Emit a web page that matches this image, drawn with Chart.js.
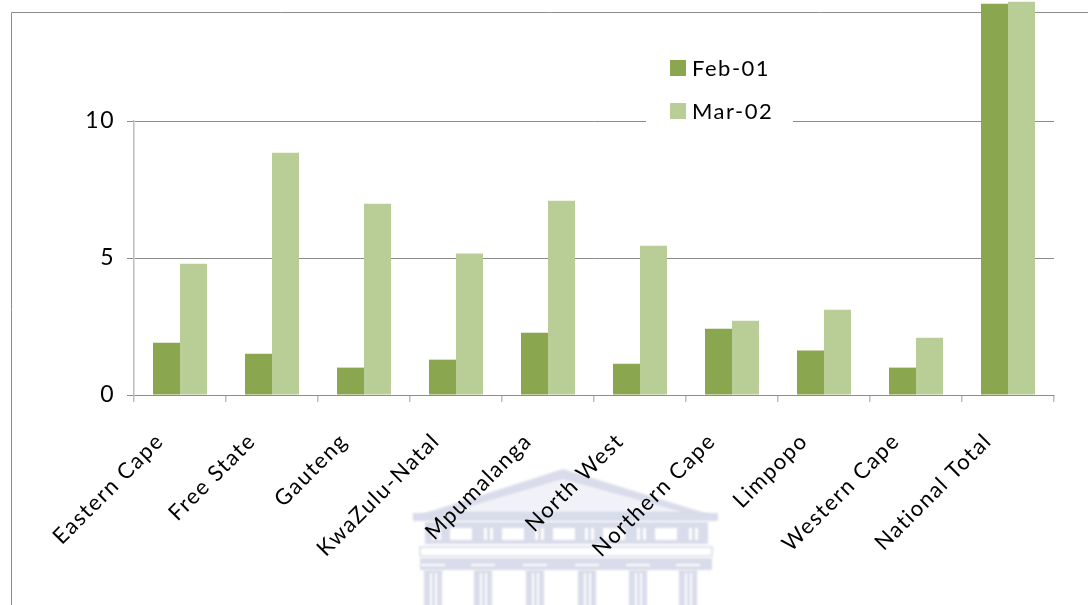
<!DOCTYPE html>
<html>
<head>
<meta charset="utf-8">
<title>Provinces Feb-01 / Mar-02</title>
<script src="https://cdn.jsdelivr.net/npm/chart.js@4.4.0/dist/chart.umd.min.js"></script>
<style>
  html, body { margin: 0; padding: 0; background: #fff; }
  #wrap { width: 1088px; height: 605px; }
</style>
</head>
<body>
<div id="wrap"><canvas id="provChart" width="1088" height="605"></canvas></div>
<script>
// values per province
const provinces = ["Eastern Cape", "Free State", "Gauteng", "KwaZulu-Natal", "Mpumalanga",
                   "North West", "Northern Cape", "Limpopo", "Western Cape", "National Total"];
const feb01 = [1.91, 1.51, 1.00, 1.29, 2.27, 1.14, 2.42, 1.62, 1.00, 14.28];
const mar02 = [4.79, 8.84, 6.98, 5.16, 7.09, 5.45, 2.71, 3.11, 2.09, 14.35];
const seriesNames = ["Feb-01", "Mar-02"];
const seriesColors = ["#8aa64e", "#b9ce96"];
const yMax = 10;
const yStep = 5;

const FONT = "Lato";
const SPACING = "1.5px";

// canvas letter spacing gets reset on resize, so set it before each layout/draw
const spacingPlugin = {
    id: "spacing",
    beforeLayout(chart) { chart.ctx.letterSpacing = SPACING; },
    beforeDraw(chart) { chart.ctx.letterSpacing = SPACING; }
};

// faint crest in the background
function drawCrest(ctx) {
    const dark = "#d9dcea";
    const light = "#f1f2f8";
    ctx.save();
    ctx.filter = "blur(1px)";
    ctx.fillStyle = dark;
    ctx.beginPath();
    ctx.moveTo(413, 517); ctx.lineTo(563, 469); ctx.lineTo(718, 517); ctx.closePath();
    ctx.fill();
    ctx.fillStyle = light;
    ctx.beginPath();
    ctx.moveTo(450, 512); ctx.lineTo(563, 479); ctx.lineTo(682, 512); ctx.closePath();
    ctx.fill();
    ctx.fillStyle = dark;
    ctx.fillRect(413, 513, 305, 8);
    ctx.fillRect(425, 522, 283, 22);
    ctx.fillStyle = "#fff";
    [450, 502, 553, 603, 655].forEach(x => ctx.fillRect(x, 528, 22, 12));
    [432, 484, 535, 585, 637, 689].forEach(x => {
        ctx.fillRect(x, 528, 3, 12);
        ctx.fillRect(x + 6, 528, 3, 12);
    });
    ctx.strokeStyle = dark;
    ctx.lineWidth = 1.5;
    ctx.strokeRect(420, 547, 292, 9);
    ctx.fillStyle = dark;
    ctx.fillRect(420, 558, 292, 12);
    ctx.fillStyle = "#fff";
    [433, 483, 535, 587, 638, 688].forEach(x => ctx.fillRect(x - 12, 564, 24, 2));
    [433, 483, 535, 587, 638, 688].forEach(x => {
        ctx.fillStyle = dark;
        ctx.fillRect(x - 9, 570, 18, 40);
        ctx.fillStyle = "#fff";
        ctx.fillRect(x - 3, 573, 2, 40);
        ctx.fillRect(x + 2, 573, 2, 40);
    });
    ctx.restore();
}

const backdropPlugin = {
    id: "backdrop",
    beforeDraw(chart) {
        const ctx = chart.ctx;
        drawCrest(ctx);
        // frame lines of the chart box
        ctx.save();
        ctx.strokeStyle = "#8c8c8c";
        ctx.lineWidth = 1;
        ctx.beginPath();
        ctx.moveTo(11.5, 700);
        ctx.lineTo(11.5, 12.5);
        ctx.lineTo(1200, 12.5);
        ctx.stroke();
        ctx.restore();
    }
};

// legend box sitting inside the plot
const innerLegend = {
    id: "innerLegend",
    afterDatasetsDraw(chart) {
        const ctx = chart.ctx;
        ctx.save();
        ctx.fillStyle = "#fff";
        ctx.fillRect(646, 48, 147, 80);
        ctx.font = "22px " + FONT;
        ctx.letterSpacing = SPACING;
        ctx.textBaseline = "middle";
        ctx.textAlign = "left";
        chart.data.datasets.forEach((ds, i) => {
            const y = 60 + i * 43;
            ctx.fillStyle = ds.backgroundColor;
            ctx.fillRect(670, y, 16, 16);
            ctx.fillStyle = "#000";
            ctx.fillText(ds.label, 692, y + 9);
        });
        ctx.restore();
    }
};

new Chart(document.getElementById("provChart"), {
    type: "bar",
    data: {
        labels: provinces,
        datasets: [
            { label: seriesNames[0], data: feb01, backgroundColor: seriesColors[0], clip: false },
            { label: seriesNames[1], data: mar02, backgroundColor: seriesColors[1], clip: false }
        ]
    },
    options: {
        responsive: false,
        animation: false,
        layout: { padding: { left: 0, top: 121, right: 34, bottom: 0 } },
        datasets: {
            bar: { categoryPercentage: 0.587, barPercentage: 1.0 }
        },
        plugins: {
            legend: { display: false },
            tooltip: { enabled: false }
        },
        scales: {
            x: {
                grid: { display: true, drawOnChartArea: false, color: "#bdbdbd", tickLength: 7, lineWidth: 1.5 },
                border: { color: "#8c8c8c", width: 1 },
                ticks: {
                    color: "#000",
                    font: { family: FONT, size: 22 },
                    minRotation: 45,
                    maxRotation: 45,
                    autoSkip: false,
                    labelOffset: -20,
                    padding: 26
                },
                afterFit(scale) { scale.height = 605 - 395; }
            },
            y: {
                min: 0,
                max: yMax,
                ticks: {
                    stepSize: yStep,
                    color: "#000",
                    font: { family: FONT, size: 23 },
                    padding: 12
                },
                grid: { color: "#8c8c8c", tickLength: 7, lineWidth: 1 },
                border: { color: "#bdbdbd", width: 1.5 },
                afterFit(scale) { scale.width = 134; }
            }
        }
    },
    plugins: [spacingPlugin, backdropPlugin, innerLegend]
});
</script>
</body>
</html>
